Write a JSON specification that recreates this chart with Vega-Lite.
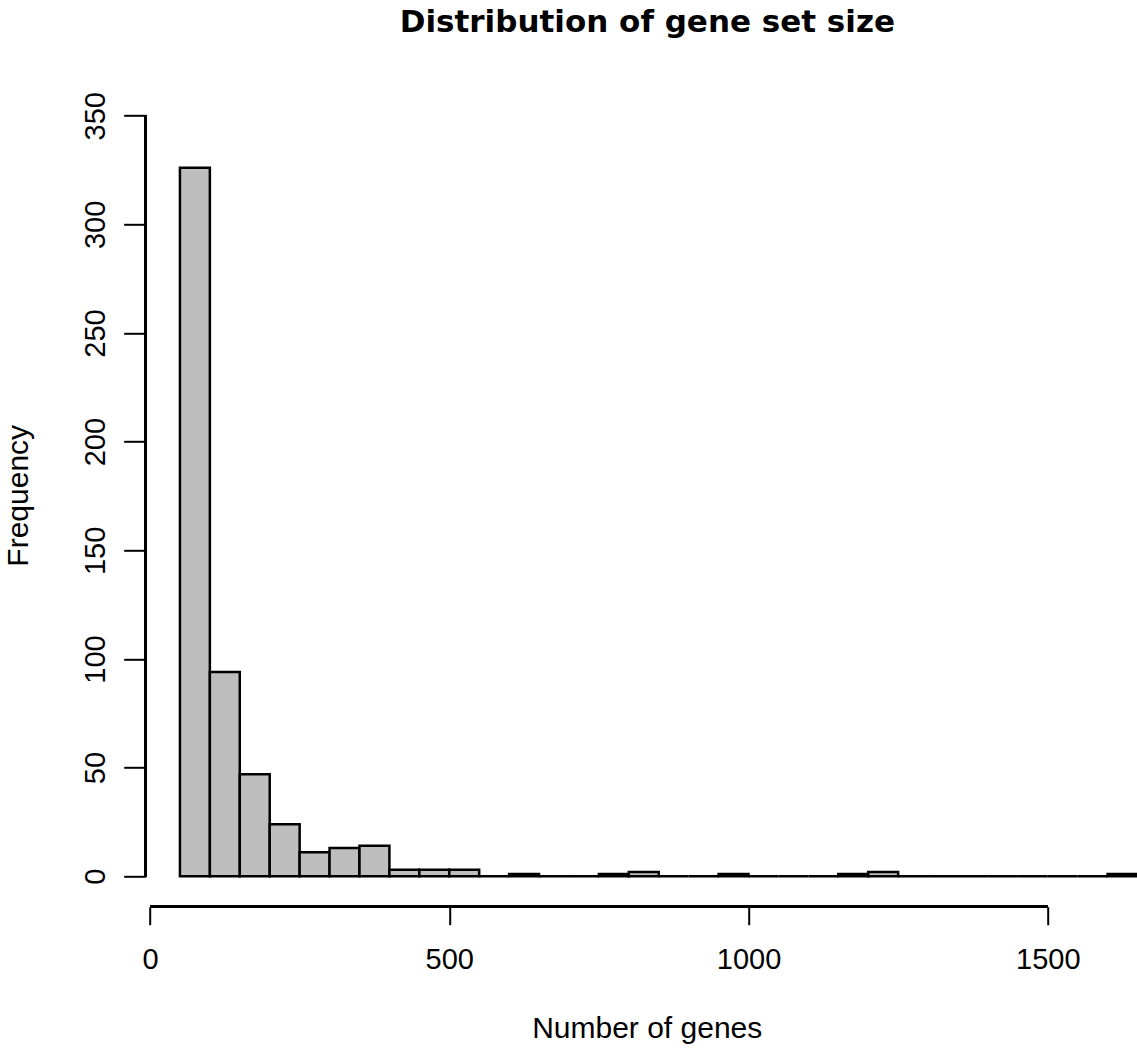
{
  "$schema": "https://vega.github.io/schema/vega-lite/v6.json",
  "autosize": {"type": "none"},
  "padding": {"left": 145.7, "top": 85.3, "right": 0, "bottom": 141.3},
  "width": 991.3,
  "height": 821.4,
  "background": "white",
  "title": {
    "text": "Distribution of gene set size",
    "font": "DejaVu Sans",
    "fontWeight": "bold",
    "fontSize": 31,
    "color": "black",
    "baseline": "alphabetic",
    "offset": 22,
    "dx": 6,
    "frame": "group"
  },
  "config": {"view": {"stroke": null}},
  "data": {
    "values": [
      {"start": 50, "end": 100, "count": 326},
      {"start": 100, "end": 150, "count": 94},
      {"start": 150, "end": 200, "count": 47},
      {"start": 200, "end": 250, "count": 24},
      {"start": 250, "end": 300, "count": 11},
      {"start": 300, "end": 350, "count": 13},
      {"start": 350, "end": 400, "count": 14},
      {"start": 400, "end": 450, "count": 3},
      {"start": 450, "end": 500, "count": 3},
      {"start": 500, "end": 550, "count": 3},
      {"start": 550, "end": 600, "count": 0},
      {"start": 600, "end": 650, "count": 1},
      {"start": 650, "end": 700, "count": 0},
      {"start": 700, "end": 750, "count": 0},
      {"start": 750, "end": 800, "count": 1},
      {"start": 800, "end": 850, "count": 2},
      {"start": 850, "end": 900, "count": 0},
      {"start": 900, "end": 950, "count": 0},
      {"start": 950, "end": 1000, "count": 1},
      {"start": 1000, "end": 1050, "count": 0},
      {"start": 1050, "end": 1100, "count": 0},
      {"start": 1100, "end": 1150, "count": 0},
      {"start": 1150, "end": 1200, "count": 1},
      {"start": 1200, "end": 1250, "count": 2},
      {"start": 1250, "end": 1300, "count": 0},
      {"start": 1300, "end": 1350, "count": 0},
      {"start": 1350, "end": 1400, "count": 0},
      {"start": 1400, "end": 1450, "count": 0},
      {"start": 1450, "end": 1500, "count": 0},
      {"start": 1500, "end": 1550, "count": 0},
      {"start": 1550, "end": 1600, "count": 0},
      {"start": 1600, "end": 1650, "count": 1}
    ]
  },
  "layer": [
    {
      "mark": {"type": "rect", "fill": "#BEBEBE", "stroke": "black", "strokeWidth": 2.5},
      "encoding": {
        "x": {
          "field": "start", "type": "quantitative",
          "scale": {"domain": [-7.2, 1649.1], "nice": false, "zero": false},
          "title": "Number of genes",
          "axis": {
            "values": [0, 500, 1000, 1500], "format": "d",
            "domain": false, "grid": false,
            "tickSize": 18, "tickWidth": 2, "tickColor": "black",
            "labelFont": "Liberation Sans", "labelFontSize": 29, "labelColor": "black",
            "labelPadding": 21, "labelFlush": false, "labelOverlap": false,
            "titleFont": "Liberation Sans", "titleFontSize": 30, "titleFontWeight": "normal", "titleColor": "black",
            "titleX": 501, "titleY": 131, "titleBaseline": "alphabetic", "titleAlign": "center"
          }
        },
        "x2": {"field": "end"},
        "y": {
          "field": "count", "type": "quantitative",
          "scale": {"domain": [-14, 364], "nice": false, "zero": false},
          "title": "Frequency",
          "axis": {
            "values": [0, 50, 100, 150, 200, 250, 300, 350], "format": "d",
            "domain": false, "grid": false,
            "tickSize": 22, "tickWidth": 2, "tickColor": "black",
            "labelFont": "Liberation Sans", "labelFontSize": 29, "labelColor": "black",
            "labelAngle": 270, "labelAlign": "center", "labelBaseline": "alphabetic",
            "labelPadding": 19, "labelFlush": false, "labelOverlap": false,
            "titleFont": "Liberation Sans", "titleFontSize": 30, "titleFontWeight": "normal", "titleColor": "black",
            "titleAngle": 270, "titleX": -118.7, "titleY": 410, "titleBaseline": "alphabetic", "titleAlign": "center"
          }
        },
        "y2": {"datum": 0}
      }
    },
    {
      "mark": {"type": "rule", "stroke": "black", "strokeWidth": 2},
      "encoding": {
        "x": {"datum": 0, "type": "quantitative", "title": "Number of genes"},
        "x2": {"datum": 1500},
        "y": {"datum": -14, "type": "quantitative", "title": "Frequency"}
      }
    },
    {
      "mark": {"type": "rule", "stroke": "black", "strokeWidth": 2},
      "encoding": {
        "x": {"datum": -7.2, "type": "quantitative", "title": "Number of genes"},
        "y": {"datum": 0, "type": "quantitative", "title": "Frequency"},
        "y2": {"datum": 350}
      }
    }
  ]
}
